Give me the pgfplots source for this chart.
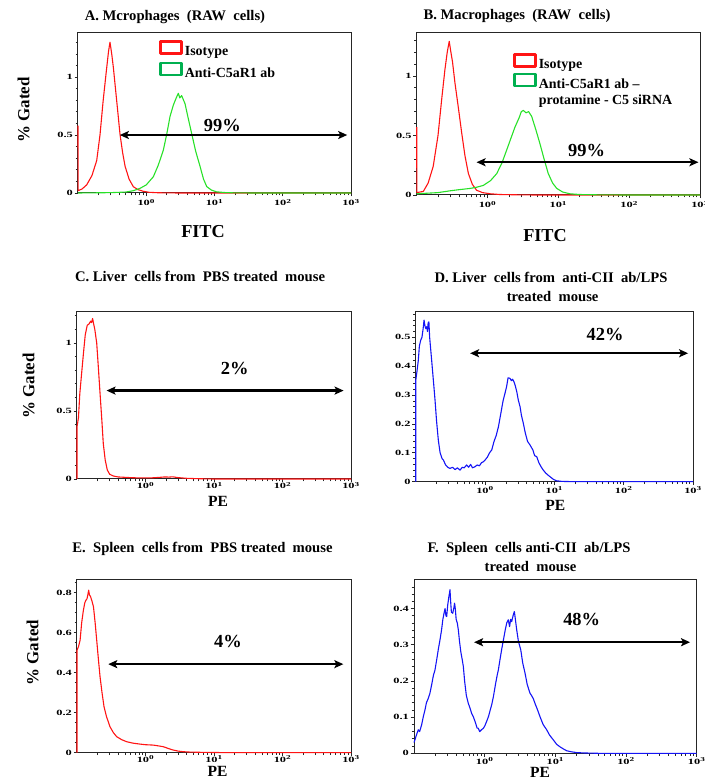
\documentclass[border=0pt]{standalone}
\usepackage{fontspec}
\setmainfont{Liberation Serif}
\newfontfamily\tickfont{Liberation Serif}[FakeStretch=1.55]
\usepackage{pgfplots}
\pgfplotsset{compat=1.18}
\usetikzlibrary{arrows.meta}

\definecolor{isoRed}{RGB}{255,20,20}
\definecolor{abGreen}{RGB}{40,225,40}
\definecolor{legGreen}{RGB}{0,176,80}
\definecolor{peBlue}{RGB}{20,20,245}

\pgfplotsset{
  facs/.style={
    scale only axis, clip=false,
    xmin=0.1, xmax=1000, ymin=0,
    axis line style={black!85, line width=1bp},
    tick align=outside, tick pos=left,
    major tick length=3.5bp, minor tick length=2.5bp,
    tick style={black!85, line width=0.7bp},
    xtick={1,10,100,1000},
    xticklabels={10\textsuperscript{0},10\textsuperscript{1},10\textsuperscript{2},10\textsuperscript{3}},
    minor xtick={0.2,0.3,0.4,0.5,0.6,0.7,0.8,0.9,2,3,4,5,6,7,8,9,20,30,40,50,60,70,80,90,200,300,400,500,600,700,800,900},
    tick label style={font=\tickfont\bfseries\fontsize{8}{9}\selectfont},
    xticklabel style={inner sep=1bp},
    yticklabel style={/pgf/number format/assume math mode=true, inner sep=1.5bp},
    every axis plot/.append style={line width=1.1bp, line join=round},
    legend cell align=left,
    legend image code/.code={\draw[line width=2.6bp, fill=none] (0bp,-2bp) rectangle (21bp,10bp);},
  },
}
\tikzset{
  ttl/.style={font=\bfseries\fontsize{14.7}{17}\selectfont, inner sep=0pt, anchor=base},
  pct/.style={font=\bfseries\fontsize{18.5}{21}\selectfont, inner sep=0pt},
  ylab/.style={font=\bfseries\fontsize{17}{19}\selectfont, inner sep=0pt, rotate=90},
  fitc/.style={font=\bfseries\fontsize{18.3}{20}\selectfont, inner sep=0pt},
  pe/.style={font=\bfseries\fontsize{15.6}{18}\selectfont, inner sep=0pt},
  gate/.style={draw=black, line width=2.4bp,
    {Stealth[length=9bp,width=8bp,inset=2bp]}-{Stealth[length=9bp,width=8bp,inset=2bp]}},
}

\begin{document}
\begin{tikzpicture}
\path[use as bounding box] (0,0) rectangle (705bp,783bp);

% A
\begin{semilogxaxis}[facs, at={(78bp,590bp)}, anchor=south west, width=273bp, height=160bp,
  ymax=1.38, ytick={0,0.5,1}, minor ytick={0.1,0.2,0.3,0.4,0.6,0.7,0.8,0.9,1.1,1.2,1.3},
  xticklabel style={yshift=-1.5bp},
  legend style={at={(0.297,0.956)}, anchor=north west, draw=none, fill=none,
    inner sep=0pt, row sep=3bp, font=\bfseries\fontsize{14}{16}\selectfont}]
\addplot[isoRed] coordinates {(0.1,0.58)(0.1005,0.02)(0.115,0.035)(0.134,0.07)(0.16,0.15)(0.188,0.28)(0.21,0.5)(0.234,0.80)(0.26,1.05)(0.28,1.22)(0.294,1.30)(0.305,1.24)(0.315,1.18)(0.33,1.08)(0.348,0.945)(0.38,0.72)(0.412,0.51)(0.45,0.35)(0.49,0.23)(0.56,0.12)(0.645,0.055)(0.75,0.03)(0.9,0.015)(1.1,0.006)(1.5,0.002)(3,0)(1000,0)};
\addlegendentry{Isotype}
\addplot[abGreen, legend image post style={draw=legGreen}] coordinates {(0.1,0)(0.3,0.003)(0.5,0.008)(0.65,0.02)(0.81,0.04)(1.0,0.07)(1.27,0.14)(1.5,0.24)(1.78,0.37)(2.0,0.51)(2.23,0.66)(2.5,0.76)(2.75,0.82)(2.95,0.86)(3.1,0.82)(3.3,0.84)(3.7,0.77)(4.1,0.65)(4.64,0.51)(5.3,0.36)(6.14,0.23)(6.9,0.12)(7.7,0.055)(9,0.025)(10.7,0.01)(14,0.004)(20,0.001)(40,0)(1000,0)};
\addlegendentry{Anti-C5aR1 ab}
\draw[gate] (axis cs:0.41,0.5) -- (axis cs:880,0.5);
\node[pct] at (axis cs:13,0.586) {99\%};
\node[ttl, yshift=12bp] at (rel axis cs:0.355,1) {A. Mcrophages\ \ (RAW\ \ cells)};
\node[ylab] at ([xshift=-54.5bp]rel axis cs:0,0.52) {\% Gated};
\node[fitc] at ([yshift=-39bp]rel axis cs:0.458,0) {FITC};
\end{semilogxaxis}

% B
\begin{semilogxaxis}[facs, at={(416.7bp,588bp)}, anchor=south west, width=283.3bp, height=162bp,
  ymax=1.36, ytick={0,0.5,1}, minor ytick={0.1,0.2,0.3,0.4,0.6,0.7,0.8,0.9,1.1,1.2,1.3},
  xticklabel style={yshift=-1.5bp},
  legend style={at={(0.34,0.877)}, anchor=north west, draw=none, fill=none,
    inner sep=0pt, row sep=1bp, font=\bfseries\fontsize{14}{16}\selectfont}]
\addplot[isoRed] coordinates {(0.1,0.57)(0.1005,0.02)(0.124,0.03)(0.145,0.1)(0.171,0.24)(0.2,0.5)(0.225,0.80)(0.25,1.05)(0.27,1.2)(0.288,1.29)(0.3,1.22)(0.32,1.12)(0.347,0.94)(0.39,0.72)(0.432,0.52)(0.48,0.33)(0.537,0.18)(0.61,0.09)(0.70,0.04)(0.85,0.02)(1.1,0.01)(1.5,0.004)(3,0.001)(5,0)(1000,0)};
\addlegendentry{Isotype}
\addplot[abGreen, legend image post style={draw=legGreen}] coordinates {(0.1,0.01)(0.2,0.02)(0.295,0.035)(0.4,0.045)(0.566,0.055)(0.7,0.065)(0.87,0.08)(1.1,0.12)(1.35,0.18)(1.6,0.27)(1.87,0.38)(2.15,0.48)(2.44,0.57)(2.8,0.65)(3.0,0.70)(3.2,0.71)(3.5,0.69)(3.8,0.70)(4.2,0.66)(4.8,0.55)(5.5,0.43)(6.3,0.30)(7.2,0.18)(8.3,0.10)(9.5,0.055)(11.5,0.025)(14.6,0.01)(20,0.004)(40,0.001)(100,0)(1000,0)};
\addlegendentry{Anti-C5aR1 ab --}
\addlegendimage{empty legend}
\addlegendentry{protamine - C5 siRNA}
\draw[gate] (axis cs:0.70,0.275) -- (axis cs:950,0.275);
\node[pct] at (axis cs:25,0.37) {99\%};
\node[ttl, yshift=13bp] at (rel axis cs:0.354,1) {B. Macrophages\ \ (RAW\ \ cells)};
\node[fitc] at ([yshift=-41bp]rel axis cs:0.453,0) {FITC};
\end{semilogxaxis}

% C
\begin{semilogxaxis}[facs, at={(77bp,304bp)}, anchor=south west, width=274bp, height=167.3bp,
  ymax=1.23, ytick={0,0.5,1}, minor ytick={0.1,0.2,0.3,0.4,0.6,0.7,0.8,0.9,1.1,1.2},
  xticklabel style={yshift=1.5bp}]
\addplot[isoRed] coordinates {(0.1,0)(0.1001,0.385)(0.105,0.45)(0.11,0.63)(0.117,0.78)(0.124,0.92)(0.132,1.06)(0.141,1.13)(0.15,1.14)(0.158,1.16)(0.163,1.15)(0.169,1.18)(0.175,1.14)(0.182,1.10)(0.194,1.0)(0.205,0.82)(0.217,0.63)(0.23,0.44)(0.242,0.26)(0.258,0.14)(0.277,0.066)(0.30,0.035)(0.339,0.022)(0.4,0.015)(0.6,0.01)(0.8,0.008)(1.2,0.008)(1.6,0.012)(1.9,0.015)(2.2,0.014)(2.5,0.016)(3,0.01)(4,0.005)(6,0.002)(10,0)(1000,0)};
\draw[gate] (axis cs:0.27,0.65) -- (axis cs:780,0.65);
\node[pct] at (axis cs:20,0.81) {2\%};
\node[ttl, yshift=30bp] at (rel axis cs:0.449,1) {C. Liver\ \ cells from\ \ PBS treated\ \ mouse};
\node[ylab] at ([xshift=-48.5bp]rel axis cs:0,0.556) {\% Gated};
\node[pe] at ([yshift=-22bp]rel axis cs:0.515,0) {PE};
\end{semilogxaxis}

% D
\begin{semilogxaxis}[facs, at={(415.7bp,301.3bp)}, anchor=south west, width=277.3bp, height=170bp,
  ymax=0.589, ytick={0,0.1,0.2,0.3,0.4,0.5},
  minor ytick={0.02,0.04,0.06,0.08,0.12,0.14,0.16,0.18,0.22,0.24,0.26,0.28,0.32,0.34,0.36,0.38,0.42,0.44,0.46,0.48,0.52,0.54,0.56,0.58}]
\addplot[peBlue] coordinates {(0.1,0)(0.1001,0.35)(0.104,0.38)(0.109,0.42)(0.113,0.47)(0.118,0.49)(0.123,0.50)(0.128,0.53)(0.132,0.56)(0.136,0.54)(0.14,0.53)(0.144,0.537)(0.148,0.52)(0.151,0.55)(0.155,0.554)(0.159,0.5)(0.163,0.47)(0.17,0.42)(0.18,0.35)(0.19,0.283)(0.2,0.21)(0.212,0.144)(0.225,0.10)(0.24,0.08)(0.251,0.075)(0.27,0.058)(0.29,0.05)(0.313,0.046)(0.34,0.05)(0.37,0.042)(0.4,0.048)(0.436,0.04)(0.47,0.05)(0.5,0.048)(0.544,0.058)(0.58,0.05)(0.62,0.06)(0.66,0.048)(0.718,0.052)(0.77,0.058)(0.83,0.055)(0.89,0.066)(0.946,0.069)(1.0,0.075)(1.08,0.085)(1.16,0.10)(1.25,0.11)(1.35,0.14)(1.45,0.16)(1.56,0.19)(1.7,0.24)(1.82,0.28)(1.94,0.306)(2.05,0.33)(2.15,0.36)(2.29,0.358)(2.4,0.35)(2.5,0.355)(2.62,0.346)(2.75,0.33)(2.88,0.31)(3.02,0.283)(3.2,0.26)(3.35,0.23)(3.57,0.202)(3.8,0.17)(4.1,0.14)(4.46,0.127)(4.9,0.11)(5.2,0.09)(5.56,0.087)(6.0,0.065)(6.5,0.05)(6.93,0.04)(7.5,0.03)(8.0,0.024)(8.7,0.017)(9.7,0.008)(10.8,0.003)(13,0.001)(20,0)(1000,0)};
\draw[gate] (axis cs:0.61,0.445) -- (axis cs:850,0.445);
\node[pct] at (axis cs:54,0.51) {42\%};
\node[ttl, yshift=28.7bp] at (rel axis cs:0.488,1) {D. Liver\ \ cells from\ \ anti-CII\ \ ab/LPS};
\node[ttl, yshift=10bp] at (rel axis cs:0.494,1) {treated\ \ mouse};
\node[pe] at ([yshift=-23.5bp]rel axis cs:0.503,0) {PE};
\end{semilogxaxis}

% E
\begin{semilogxaxis}[facs, at={(77bp,30.3bp)}, anchor=south west, width=274bp, height=172.7bp,
  ymax=0.864, ytick={0,0.2,0.4,0.6,0.8},
  minor ytick={0.05,0.1,0.15,0.25,0.3,0.35,0.45,0.5,0.55,0.65,0.7,0.75,0.85},
  xticklabel style={yshift=2bp}]
\addplot[isoRed] coordinates {(0.1,0)(0.1001,0.513)(0.105,0.53)(0.111,0.563)(0.117,0.65)(0.124,0.713)(0.13,0.75)(0.135,0.763)(0.14,0.77)(0.144,0.79)(0.148,0.813)(0.152,0.79)(0.158,0.78)(0.165,0.76)(0.174,0.73)(0.184,0.65)(0.194,0.563)(0.205,0.47)(0.217,0.38)(0.232,0.3)(0.248,0.23)(0.27,0.18)(0.303,0.13)(0.34,0.10)(0.38,0.08)(0.45,0.065)(0.53,0.055)(0.65,0.048)(0.83,0.043)(1.0,0.04)(1.3,0.038)(1.55,0.034)(1.82,0.03)(2.2,0.02)(2.55,0.013)(3.0,0.008)(3.56,0.005)(4.5,0.003)(6.3,0.002)(10,0.001)(20,0)(1000,0)};
\draw[gate] (axis cs:0.286,0.443) -- (axis cs:773,0.443);
\node[pct] at (axis cs:16,0.555) {4\%};
\node[ttl, yshift=27.3bp] at (rel axis cs:0.458,1) {E.\ \ Spleen\ \ cells from\ \ PBS treated\ \ mouse};
\node[ylab] at ([xshift=-44.5bp]rel axis cs:0,0.579) {\% Gated};
\node[pe] at ([yshift=-18.5bp]rel axis cs:0.513,0) {PE};
\end{semilogxaxis}

% F
\begin{semilogxaxis}[facs, at={(414bp,29.7bp)}, anchor=south west, width=282.7bp, height=173.3bp,
  ymax=0.479, ytick={0,0.1,0.2,0.3,0.4},
  minor ytick={0.02,0.04,0.06,0.08,0.12,0.14,0.16,0.18,0.22,0.24,0.26,0.28,0.32,0.34,0.36,0.38,0.42,0.44,0.46}]
\addplot[peBlue] coordinates {(0.1,0.03)(0.103,0.037)(0.108,0.05)(0.115,0.065)(0.12,0.06)(0.128,0.078)(0.135,0.1)(0.143,0.12)(0.15,0.14)(0.158,0.15)(0.168,0.166)(0.178,0.19)(0.188,0.215)(0.198,0.23)(0.21,0.26)(0.222,0.29)(0.233,0.313)(0.245,0.34)(0.256,0.37)(0.266,0.387)(0.275,0.40)(0.283,0.38)(0.29,0.378)(0.3,0.41)(0.31,0.43)(0.323,0.452)(0.33,0.42)(0.338,0.39)(0.353,0.387)(0.365,0.40)(0.375,0.415)(0.384,0.40)(0.395,0.37)(0.41,0.36)(0.424,0.341)(0.44,0.31)(0.46,0.28)(0.48,0.26)(0.499,0.24)(0.52,0.20)(0.55,0.16)(0.587,0.138)(0.62,0.125)(0.655,0.11)(0.691,0.101)(0.74,0.085)(0.78,0.07)(0.813,0.069)(0.85,0.06)(0.9,0.065)(0.957,0.069)(1.0,0.075)(1.05,0.085)(1.13,0.101)(1.2,0.12)(1.26,0.135)(1.33,0.157)(1.42,0.19)(1.5,0.215)(1.56,0.23)(1.65,0.26)(1.75,0.29)(1.84,0.313)(1.95,0.34)(2.05,0.36)(2.16,0.369)(2.25,0.35)(2.33,0.37)(2.41,0.364)(2.52,0.38)(2.63,0.392)(2.72,0.37)(2.84,0.341)(3.0,0.31)(3.24,0.286)(3.45,0.25)(3.73,0.221)(4.0,0.19)(4.38,0.166)(4.6,0.16)(4.9,0.15)(5.15,0.138)(5.6,0.12)(6.07,0.101)(6.7,0.08)(7.54,0.065)(8.3,0.05)(9.37,0.037)(10.4,0.025)(11.6,0.018)(13,0.012)(14.5,0.007)(17,0.004)(20,0.002)(25,0.001)(40,0)(1000,0)};
\draw[gate] (axis cs:0.708,0.307) -- (axis cs:805,0.307);
\node[pct] at (axis cs:23.6,0.37) {48\%};
\node[ttl, yshift=27bp] at (rel axis cs:0.407,1) {F.\ \ Spleen\ \ cells anti-CII\ \ ab/LPS};
\node[ttl, yshift=8.3bp] at (rel axis cs:0.412,1) {treated\ \ mouse};
\node[pe] at ([yshift=-19bp]rel axis cs:0.446,0) {PE};
\end{semilogxaxis}
\end{tikzpicture}
\end{document}
